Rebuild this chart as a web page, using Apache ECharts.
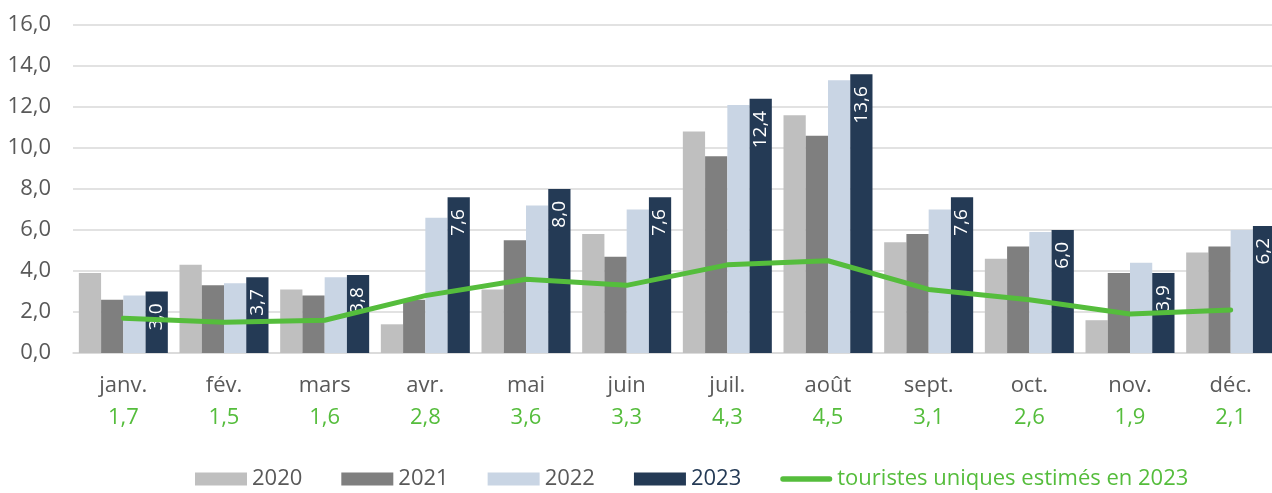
<!DOCTYPE html>
<html>
<head>
<meta charset="utf-8">
<script src="https://cdn.jsdelivr.net/npm/echarts@6/dist/echarts.min.js"></script>
<style>
html,body{margin:0;padding:0;background:#fff;}
#c{width:1272px;height:493px;}
</style>
</head>
<body>
<div id="c"></div>
<script>
const categories = ['janv.','fév.','mars','avr.','mai','juin','juil.','août','sept.','oct.','nov.','déc.'];
const v2020 = [3.9,4.3,3.1,1.4,3.1,5.8,10.8,11.6,5.4,4.6,1.6,4.9];
const v2021 = [2.6,3.3,2.8,2.6,5.5,4.7,9.6,10.6,5.8,5.2,3.9,5.2];
const v2022 = [2.8,3.4,3.7,6.6,7.2,7.0,12.1,13.3,7.0,5.9,4.4,6.0];
const v2023 = [3.0,3.7,3.8,7.6,8.0,7.6,12.4,13.6,7.6,6.0,3.9,6.2];
const touristes = [1.7,1.5,1.6,2.8,3.6,3.3,4.3,4.5,3.1,2.6,1.9,2.1];
const seriesNames = ['2020','2021','2022','2023','touristes uniques estimés en 2023'];

const FONT = '"Open Sans", "Noto Sans", sans-serif';
const GREEN = '#55bd3c';
const fmt = v => Number(v).toFixed(1).replace('.', ',');

const chart = echarts.init(document.getElementById('c'), null, {renderer: 'canvas'});
const barCommon = {type: 'bar', barGap: '0%', barCategoryGap: '11.6%'};
chart.setOption({
  animation: false,
  textStyle: {fontFamily: FONT},
  grid: {left: 73, top: 25, width: 1208, height: 328, containLabel: false, outerBoundsMode: 'none'},
  legend: {
    left: 195, top: 468, padding: 0,
    itemWidth: 52, itemHeight: 13, itemGap: 39,
    textStyle: {fontFamily: FONT, fontSize: 22, color: '#595959'},
    data: [
      {name: seriesNames[0], icon: 'rect'},
      {name: seriesNames[1], icon: 'rect'},
      {name: seriesNames[2], icon: 'rect'},
      {name: seriesNames[3], icon: 'rect', textStyle: {color: '#243a55'}},
      {name: seriesNames[4], icon: 'path://M3,0 L55,0 A3,3 0 0 1 55,6 L3,6 A3,3 0 0 1 3,0 Z', textStyle: {color: GREEN}}
    ]
  },
  xAxis: {
    type: 'category',
    data: categories,
    axisLine: {show: true, lineStyle: {color: '#d9d9d9', width: 1.5}},
    axisTick: {show: false},
    axisLabel: {
      margin: 18,
      interval: 0,
      formatter: (val, idx) => '{m|' + val + '}\n{v|' + fmt(touristes[idx]) + '}',
      rich: {
        m: {fontFamily: FONT, fontSize: 22, color: '#595959', lineHeight: 30},
        v: {fontFamily: FONT, fontSize: 22, color: GREEN, lineHeight: 34}
      }
    }
  },
  yAxis: {
    type: 'value', min: 0, max: 16, interval: 2,
    axisLine: {show: false}, axisTick: {show: false},
    splitLine: {lineStyle: {color: '#d9d9d9', width: 1.5}},
    axisLabel: {fontFamily: FONT, fontSize: 22, color: '#595959', margin: 22, formatter: fmt}
  },
  series: [
    Object.assign({name: seriesNames[0], data: v2020, itemStyle: {color: '#bfbfbf'}}, barCommon),
    Object.assign({name: seriesNames[1], data: v2021, itemStyle: {color: '#7f7f7f'}}, barCommon),
    Object.assign({name: seriesNames[2], data: v2022, itemStyle: {color: '#c9d5e4'}}, barCommon),
    Object.assign({name: seriesNames[3], data: v2023, itemStyle: {color: '#243a55'},
      label: {show: true, position: 'insideTop', rotate: 90, align: 'right', verticalAlign: 'middle',
        distance: 12, color: '#ffffff', fontFamily: FONT, fontSize: 19, formatter: p => fmt(p.value)}}, barCommon),
    {name: seriesNames[4], type: 'line', data: touristes, symbol: 'none', z: 5,
      lineStyle: {color: GREEN, width: 5, cap: 'round', join: 'round'}, itemStyle: {color: GREEN}}
  ]
});
</script>
</body>
</html>
